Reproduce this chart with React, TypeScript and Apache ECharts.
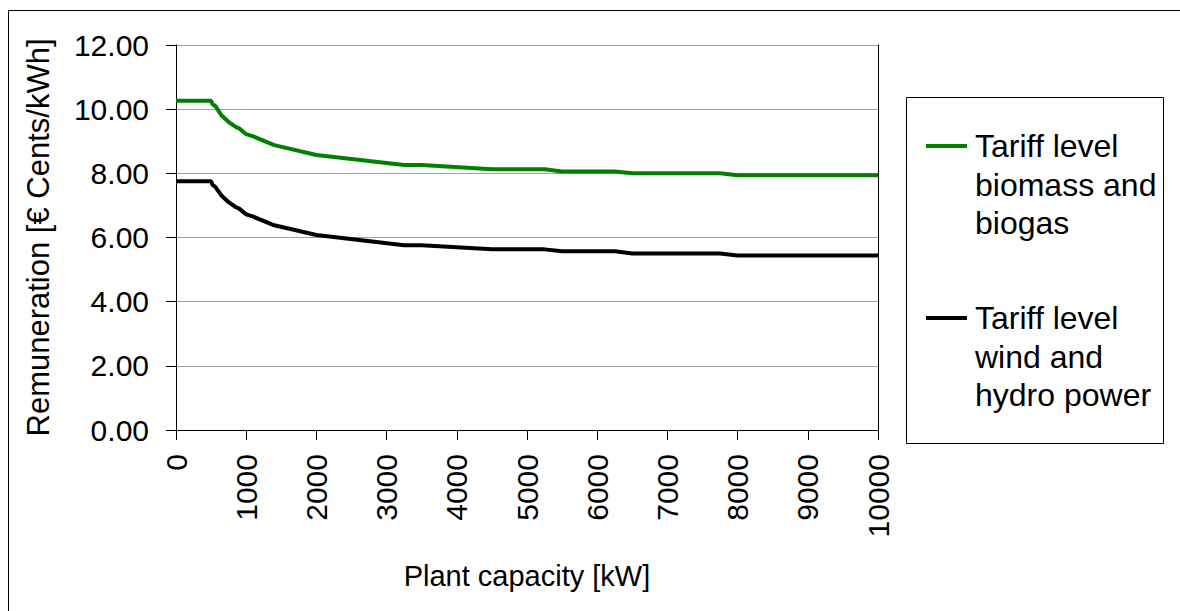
import React, { useEffect, useRef } from "react";
import * as echarts from "echarts";

const seriesNames = ["Tariff level\nbiomass and\nbiogas", "Tariff level\nwind and\nhydro power"];
const seriesColors = ["#008000", "#000000"];

const capacityKW = [0, 500, 520, 560, 650, 750, 850, 900, 1000, 1100, 1400, 2000, 3250, 3500, 4500, 5250, 5500, 6250, 6500, 7750, 8000, 10000];
const biomassTariff = [10.26, 10.26, 10.15, 10.1, 9.8, 9.6, 9.45, 9.4, 9.22, 9.15, 8.88, 8.57, 8.26, 8.26, 8.13, 8.13, 8.06, 8.06, 8.0, 8.0, 7.94, 7.94];
const windHydroTariff = [7.75, 7.75, 7.64, 7.58, 7.3, 7.1, 6.95, 6.9, 6.72, 6.65, 6.38, 6.08, 5.76, 5.76, 5.63, 5.63, 5.57, 5.57, 5.5, 5.5, 5.44, 5.44];

const yTicks = { min: 0, max: 12, interval: 2 };
const xTicks = { min: 0, max: 10000, interval: 1000 };

const FONT = "'Liberation Sans', Arial, sans-serif";

export default function App() {
  const ref = useRef<HTMLDivElement>(null);
  useEffect(() => {
    if (!ref.current) return;
    const chart = echarts.init(ref.current, null, { renderer: "svg" });
    const legendLines = seriesNames.map((n) => n.split("\n"));
    const legendTop = [146, 318];
    const lineH = 38.5;
    const graphics: any[] = [
      { type: "line", shape: { x1: 8.5, y1: 10.5, x2: 8.5, y2: 620 }, style: { stroke: "#000", lineWidth: 1 } },
      { type: "line", shape: { x1: 8.5, y1: 10.5, x2: 1190, y2: 10.5 }, style: { stroke: "#000", lineWidth: 1 } },
      { type: "rect", shape: { x: 906.5, y: 97.5, width: 257, height: 346 }, style: { fill: "#fff", stroke: "#000", lineWidth: 1 } },
    ];
    legendLines.forEach((lines, i) => {
      graphics.push({ type: "line", shape: { x1: 926, y1: legendTop[i], x2: 967, y2: legendTop[i] }, style: { stroke: seriesColors[i], lineWidth: 4 } });
      lines.forEach((t, j) => {
        graphics.push({
          type: "text",
          x: 975,
          y: legendTop[i] + j * lineH,
          style: { text: t, fontSize: 32, fontFamily: FONT, fill: "#000", textVerticalAlign: "middle", textAlign: "left" },
        });
      });
    });
    chart.setOption({
      animation: false,
      backgroundColor: "#fff",
      grid: { left: 176, right: 302, top: 45, bottom: 181, containLabel: false, outerBoundsMode: "none" },
      xAxis: {
        type: "value",
        min: xTicks.min,
        max: xTicks.max,
        interval: xTicks.interval,
        name: "Plant capacity [kW]",
        nameLocation: "middle",
        nameGap: 131,
        nameTextStyle: { fontSize: 29, fontFamily: FONT, color: "#000" },
        axisLine: { show: true, lineStyle: { color: "#000", width: 1 } },
        axisTick: { show: true, length: 10, lineStyle: { color: "#000" } },
        axisLabel: { rotate: 90, fontSize: 30, fontFamily: FONT, color: "#000", margin: 24, formatter: (v: number) => String(v) },
        splitLine: { show: false },
      },
      yAxis: [
        {
          type: "value",
          min: yTicks.min,
          max: yTicks.max,
          interval: yTicks.interval,
          name: "Remuneration [€ Cents/kWh]",
          nameLocation: "middle",
          nameGap: 122,
          nameTextStyle: { fontSize: 31, fontFamily: FONT, color: "#000" },
          axisLine: { show: true, lineStyle: { color: "#000", width: 1 } },
          axisTick: { show: true, length: 10, lineStyle: { color: "#000" } },
          axisLabel: { fontSize: 30, fontFamily: FONT, color: "#000", margin: 27, formatter: (v: number) => v.toFixed(2) },
          splitLine: { show: true, lineStyle: { color: "#a0a0a0", width: 1 } },
        },
        {
          type: "value",
          position: "right",
          min: yTicks.min,
          max: yTicks.max,
          interval: yTicks.interval,
          axisLine: { show: true, lineStyle: { color: "#000", width: 1 } },
          axisTick: { show: false },
          axisLabel: { show: false },
          splitLine: { show: false },
        },
      ],
      series: [biomassTariff, windHydroTariff].map((vals, i) => ({
        type: "line",
        name: seriesNames[i],
        yAxisIndex: 0,
        data: capacityKW.map((x, k) => [x, vals[k]]),
        showSymbol: false,
        symbol: "none",
        lineStyle: { color: seriesColors[i], width: 4 },
        itemStyle: { color: seriesColors[i] },
      })),
      graphic: graphics,
    });
    return () => chart.dispose();
  }, []);
  return <div ref={ref} style={{ position: "fixed", left: 0, top: 0, width: 1180, height: 611 }} />;
}
